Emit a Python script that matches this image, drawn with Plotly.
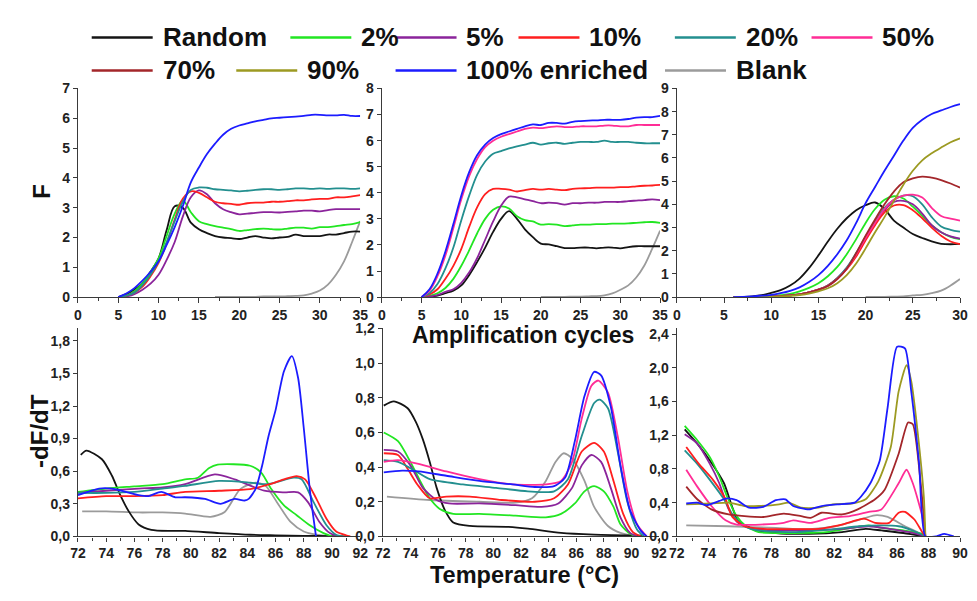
import plotly.graph_objects as go

# ---------------- series ----------------
series_names = ["Random", "2%", "5%", "10%", "20%", "50%", "70%", "90%", "100% enriched", "Blank"]
series_colors = ["#141414", "#22e622", "#8b249b", "#ff1f1f", "#238f8f", "#ff2d96",
                 "#a3262a", "#9c9a22", "#1c1cff", "#9b9b9b"]

# ---------------- top-left: amplification (cycles) ----------------
tl_cycles = list(range(5, 36))
tl_random = [0, 0.1, 0.25, 0.45, 0.85, 1.3, 2.25, 3.05, 3.0, 2.5, 2.28, 2.15, 2.05, 2.0, 1.98, 1.95,
             2.0, 2.05, 2.0, 1.97, 2.0, 2.02, 2.1, 2.05, 2.05, 2.05, 2.1, 2.1, 2.15, 2.2, 2.2]
tl_2pct = [0, 0.05, 0.2, 0.45, 0.85, 1.3, 2.05, 2.8, 3.25, 2.85, 2.55, 2.45, 2.38, 2.33, 2.28, 2.22,
           2.25, 2.28, 2.3, 2.28, 2.27, 2.3, 2.33, 2.33, 2.3, 2.35, 2.35, 2.38, 2.42, 2.45, 2.52]
tl_5pct = [0, 0.02, 0.1, 0.25, 0.45, 0.75, 1.25, 1.85, 2.7, 3.35, 3.58, 3.45, 3.15, 2.95, 2.85, 2.78,
           2.8, 2.83, 2.85, 2.85, 2.84, 2.86, 2.88, 2.9, 2.9, 2.88, 2.92, 2.95, 2.95, 2.95, 2.95]
tl_10pct = [0, 0.05, 0.15, 0.35, 0.7, 1.15, 1.8, 2.6, 3.3, 3.55, 3.5, 3.35, 3.2, 3.15, 3.13, 3.1,
            3.15, 3.17, 3.17, 3.2, 3.2, 3.22, 3.25, 3.25, 3.28, 3.3, 3.3, 3.35, 3.35, 3.38, 3.42]
tl_20pct = [0, 0.05, 0.15, 0.4, 0.75, 1.2, 1.85, 2.55, 3.2, 3.6, 3.68, 3.67, 3.62, 3.6, 3.58, 3.55,
            3.57, 3.6, 3.62, 3.62, 3.6, 3.62, 3.65, 3.65, 3.63, 3.65, 3.63, 3.65, 3.65, 3.63, 3.65]
tl_100pct = [0, 0.12, 0.3, 0.55, 0.85, 1.2, 1.75, 2.35, 3.05, 3.85, 4.35, 4.8, 5.15, 5.45, 5.65, 5.76,
             5.83, 5.9, 5.95, 6.0, 6.02, 6.04, 6.06, 6.08, 6.12, 6.12, 6.1, 6.1, 6.12, 6.08, 6.08]
tl_blank_cycles = list(range(17, 36))
tl_blank = [0.01, 0.01, 0.01, 0.01, 0.01, 0.01, 0.02, 0.02, 0.02, 0.03, 0.04, 0.06, 0.12, 0.22,
            0.42, 0.75, 1.2, 1.85, 2.55]

# ---------------- top-middle ----------------
tm_cycles = list(range(5, 36))
tm_random = [0, 0.02, 0.06, 0.15, 0.25, 0.45, 0.85, 1.35, 1.9, 2.5, 3.0, 3.3, 3.0, 2.6, 2.3, 2.05,
             2.02, 1.95, 1.88, 1.88, 1.9, 1.9, 1.87, 1.9, 1.9, 1.87, 1.92, 1.95, 1.95, 1.95, 1.95]
tm_2pct = [0, 0.05, 0.15, 0.35, 0.7, 1.2, 1.8, 2.45, 3.0, 3.35, 3.48, 3.4, 3.1, 2.95, 2.9, 2.78,
           2.8, 2.78, 2.72, 2.75, 2.78, 2.78, 2.8, 2.8, 2.82, 2.82, 2.83, 2.85, 2.87, 2.88, 2.85]
tm_5pct = [0, 0.02, 0.08, 0.2, 0.3, 0.55, 0.95, 1.5, 2.2, 2.9, 3.5, 3.85, 3.82, 3.75, 3.68, 3.6,
           3.62, 3.6, 3.55, 3.6, 3.6, 3.62, 3.62, 3.65, 3.65, 3.65, 3.68, 3.7, 3.72, 3.75, 3.72]
tm_10pct = [0, 0.1, 0.3, 0.7, 1.2, 1.85, 2.7, 3.45, 3.95, 4.15, 4.15, 4.12, 4.05, 4.1, 4.15, 4.12,
            4.15, 4.12, 4.1, 4.15, 4.17, 4.18, 4.2, 4.2, 4.2, 4.22, 4.22, 4.25, 4.27, 4.28, 4.3]
tm_20pct = [0, 0.15, 0.5, 1.1, 1.9, 2.95, 3.9, 4.7, 5.2, 5.5, 5.6, 5.7, 5.78, 5.85, 5.92, 5.85,
            5.9, 5.92, 5.88, 5.92, 5.95, 5.95, 5.95, 6.0, 5.95, 5.95, 5.95, 5.92, 5.9, 5.9, 5.9]
tm_50pct = [0, 0.25, 0.8, 1.6, 2.65, 3.75, 4.65, 5.3, 5.75, 6.0, 6.15, 6.25, 6.35, 6.45, 6.5, 6.48,
            6.52, 6.55, 6.52, 6.52, 6.55, 6.55, 6.55, 6.58, 6.58, 6.55, 6.55, 6.6, 6.6, 6.6, 6.6]
tm_100pct = [0, 0.3, 0.9, 1.75, 2.8, 3.9, 4.8, 5.45, 5.85, 6.1, 6.25, 6.35, 6.45, 6.55, 6.62, 6.6,
             6.68, 6.68, 6.65, 6.72, 6.75, 6.77, 6.78, 6.8, 6.8, 6.8, 6.83, 6.88, 6.9, 6.9, 6.95]
tm_blank_cycles = list(range(20, 36))
tm_blank = [0.005, 0.01, 0.01, 0.01, 0.015, 0.02, 0.03, 0.04, 0.07, 0.14, 0.28, 0.45, 0.75, 1.2,
            1.85, 2.55]

# ---------------- top-right ----------------
tr_cycles = list(range(6, 31))
tr_random = [0, 0.01, 0.03, 0.08, 0.18, 0.3, 0.5, 0.8, 1.25, 1.8, 2.4, 2.95, 3.4, 3.75, 3.96, 4.08,
             3.8, 3.3, 3.0, 2.72, 2.55, 2.4, 2.3, 2.28, 2.3]
tr_2pct = [0, 0, 0.01, 0.02, 0.04, 0.08, 0.14, 0.25, 0.4, 0.6, 0.9, 1.3, 1.85, 2.5, 3.2, 3.8, 4.2,
           4.35, 4.25, 3.9, 3.5, 3.1, 2.8, 2.6, 2.5]
tr_5pct = [0, 0, 0, 0.01, 0.02, 0.04, 0.07, 0.12, 0.2, 0.32, 0.5, 0.82, 1.25, 1.85, 2.55, 3.2, 3.75,
           4.1, 4.15, 4.0, 3.6, 3.1, 2.8, 2.62, 2.52]
tr_10pct = [0, 0, 0, 0.01, 0.02, 0.04, 0.07, 0.12, 0.2, 0.32, 0.5, 0.8, 1.2, 1.75, 2.45, 3.1, 3.65,
            3.95, 3.97, 3.75, 3.4, 3.0, 2.65, 2.4, 2.28]
tr_20pct = [0, 0, 0, 0.01, 0.02, 0.04, 0.07, 0.12, 0.2, 0.32, 0.5, 0.82, 1.27, 1.9, 2.6, 3.25, 3.85,
            4.2, 4.38, 4.35, 4.0, 3.45, 3.05, 2.9, 2.82]
tr_50pct = [0, 0, 0, 0.01, 0.02, 0.04, 0.07, 0.12, 0.2, 0.32, 0.48, 0.78, 1.22, 1.85, 2.55, 3.2, 3.8,
            4.2, 4.38, 4.42, 4.3, 3.85, 3.5, 3.38, 3.3]
tr_70pct = [0, 0, 0, 0.01, 0.02, 0.04, 0.07, 0.12, 0.2, 0.32, 0.48, 0.78, 1.22, 1.9, 2.65, 3.35, 4.0,
            4.55, 4.95, 5.12, 5.2, 5.15, 5.05, 4.9, 4.72]
tr_90pct = [0, 0, 0, 0.01, 0.02, 0.03, 0.05, 0.09, 0.15, 0.25, 0.38, 0.6, 0.95, 1.45, 2.1, 2.8, 3.45,
            4.15, 4.85, 5.45, 5.9, 6.2, 6.45, 6.68, 6.85]
tr_100pct = [0, 0.01, 0.03, 0.06, 0.1, 0.17, 0.27, 0.42, 0.65, 0.95, 1.35, 1.85, 2.45, 3.2, 4.05,
             4.75, 5.45, 6.1, 6.75, 7.3, 7.65, 7.9, 8.05, 8.2, 8.32]
tr_blank_cycles = list(range(20, 31))
tr_blank = [0.005, 0.01, 0.01, 0.02, 0.03, 0.07, 0.1, 0.17, 0.28, 0.5, 0.78]

# ---------------- bottom-left: melt curves ----------------
bl_random_t = [72.2, 72.6, 73.7, 74.4, 75.0, 75.6, 76.3, 77.2, 78.6, 79.6, 82, 84.2, 86, 88, 90, 91]
bl_random_v = [0.75, 0.79, 0.71, 0.56, 0.38, 0.23, 0.11, 0.06, 0.05, 0.05, 0.03, 0.015, 0.01, 0.005, 0.003, 0]
bl_2pct_t = [72, 74, 76, 78, 79.6, 80.5, 81.3, 81.9, 84.2, 85.0, 85.7, 86.6, 87.5, 88.4, 89.4, 90.0]
bl_2pct_v = [0.41, 0.44, 0.46, 0.48, 0.525, 0.54, 0.63, 0.66, 0.65, 0.585, 0.435, 0.285, 0.195, 0.105, 0.03, 0]
bl_5pct_t = [72, 74, 76.3, 78, 79.6, 81.7, 83.1, 85.2, 86.6, 87.6, 88.3, 89.1, 89.85, 90.5]
bl_5pct_v = [0.4, 0.42, 0.44, 0.45, 0.48, 0.57, 0.525, 0.42, 0.405, 0.405, 0.315, 0.135, 0.03, 0]
bl_10pct_t = [72, 74, 76, 78, 79.6, 82, 84.2, 85.6, 86.6, 87.5, 88.1, 88.9, 89.6, 90.3, 91.0, 91.3]
bl_10pct_v = [0.35, 0.37, 0.37, 0.38, 0.41, 0.42, 0.435, 0.48, 0.525, 0.555, 0.525, 0.345, 0.165, 0.045,
              0.01, 0]
bl_20pct_t = [72, 74, 76, 78, 79.6, 82.0, 84.2, 85.4, 87.3, 87.85, 88.7, 89.6, 90.3, 90.8]
bl_20pct_v = [0.4, 0.4, 0.41, 0.44, 0.465, 0.51, 0.495, 0.48, 0.54, 0.525, 0.315, 0.105, 0.015, 0]
bl_100pct_t = [72, 73.5, 74.4, 75.4, 76.3, 77, 77.9, 78.9, 79.6, 81.0, 82.1, 83.1, 83.8, 84.1, 84.6,
               85.05, 85.5, 86.0, 86.6, 87.16, 87.6, 88.0, 88.45, 88.87]
bl_100pct_v = [0.38, 0.44, 0.44, 0.41, 0.38, 0.37, 0.41, 0.36, 0.36, 0.345, 0.3, 0.345, 0.33, 0.345,
               0.44, 0.65, 0.92, 1.16, 1.52, 1.66, 1.46, 1.0, 0.41, 0]
bl_blank_t = [72.3, 74, 76.3, 78, 79.6, 81.4, 82.4, 83.5, 84.6, 85.3, 86.1, 87.05, 88.0, 88.9, 90.0]
bl_blank_v = [0.23, 0.23, 0.22, 0.22, 0.21, 0.18, 0.225, 0.435, 0.495, 0.465, 0.315, 0.135, 0.045, 0.015, 0]

# ---------------- bottom-middle ----------------
bm_random_t = [72.07, 72.8, 73.8, 74.4, 74.9, 75.4, 75.9, 76.5, 77.1, 78.3, 81.1, 82.5, 84.9, 87.3, 90.9]
bm_random_v = [0.755, 0.78, 0.74, 0.66, 0.56, 0.43, 0.28, 0.15, 0.08, 0.06, 0.055, 0.045, 0.02, 0.01, 0.004]
bm_2pct_t = [72.07, 73.1, 74, 74.7, 75.4, 76.1, 77.1, 79, 81.6, 83.8, 84.9, 85.9, 86.6, 87.3, 88,
             88.7, 89.2, 89.9, 90.4]
bm_2pct_v = [0.6, 0.55, 0.43, 0.32, 0.22, 0.16, 0.13, 0.13, 0.12, 0.11, 0.13, 0.19, 0.26, 0.29, 0.26,
             0.17, 0.07, 0.015, 0]
bm_5pct_t = [72.07, 73.1, 74, 74.9, 75.9, 76.8, 79, 81.6, 83.5, 84.7, 85.7, 86.4, 87.1, 87.8, 88.5,
             89.2, 89.9, 90.4]
bm_5pct_v = [0.5, 0.49, 0.41, 0.28, 0.21, 0.19, 0.19, 0.18, 0.17, 0.19, 0.28, 0.41, 0.47, 0.43, 0.28,
             0.11, 0.02, 0]
bm_10pct_t = [72.07, 73.1, 73.8, 74.5, 75.4, 76.6, 78.3, 80.6, 83, 84.4, 85.4, 86.4, 87.3, 88, 88.7,
              89.4, 90.1, 90.7]
bm_10pct_v = [0.48, 0.47, 0.39, 0.3, 0.22, 0.23, 0.23, 0.21, 0.2, 0.22, 0.3, 0.49, 0.54, 0.49, 0.32,
              0.13, 0.025, 0]
bm_20pct_t = [72.07, 73.1, 74.3, 75.4, 77.8, 80.2, 82.5, 84.4, 85.4, 86.4, 87.3, 87.7, 88.3, 89,
              89.7, 90.4, 90.9]
bm_20pct_v = [0.44, 0.43, 0.38, 0.33, 0.3, 0.28, 0.26, 0.26, 0.33, 0.58, 0.77, 0.79, 0.74, 0.49, 0.2,
              0.04, 0]
bm_50pct_t = [72.07, 73.1, 74.5, 76.6, 79, 81.4, 83.8, 84.9, 85.7, 86.4, 87.1, 87.6, 88.3, 89, 89.7,
              90.4, 91.1]
bm_50pct_v = [0.43, 0.44, 0.42, 0.375, 0.33, 0.3, 0.3, 0.32, 0.43, 0.68, 0.87, 0.9, 0.83, 0.58, 0.26,
              0.07, 0]
bm_100pct_t = [72.07, 73.4, 74.6, 76.6, 79, 81.4, 83, 84.4, 85.2, 85.9, 86.6, 87.3, 87.8, 88.5, 89.2,
               89.9, 90.7, 91.1]
bm_100pct_v = [0.37, 0.38, 0.375, 0.35, 0.32, 0.3, 0.285, 0.29, 0.34, 0.55, 0.81, 0.95, 0.93, 0.75,
               0.41, 0.15, 0.03, 0]
bm_blank_t = [72.3, 75.4, 79, 81.6, 82.8, 83.8, 84.5, 85.1, 85.7, 86.6, 87.3, 88.3, 89.2, 90.1]
bm_blank_v = [0.23, 0.21, 0.2, 0.195, 0.22, 0.32, 0.43, 0.48, 0.45, 0.32, 0.17, 0.06, 0.02, 0.004]

# ---------------- bottom-right ----------------
br_random_t = [72.5, 73.3, 74.1, 75.0, 75.5, 75.9, 76.8, 78.3, 80.4, 82.5, 84.0, 85.0, 86.4, 87.8]
br_random_v = [1.27, 1.1, 0.9, 0.63, 0.36, 0.18, 0.09, 0.04, 0.03, 0.05, 0.09, 0.07, 0.04, 0]
br_2pct_t = [72.5, 73.3, 74.1, 74.7, 75.2, 75.8, 76.4, 77.2, 79.4, 81.5, 83.1, 84.2, 85.0, 86.4, 87.6, 87.8]
br_2pct_v = [1.31, 1.14, 0.94, 0.71, 0.47, 0.24, 0.12, 0.05, 0.04, 0.05, 0.1, 0.13, 0.1, 0.07, 0.03, 0]
br_5pct_t = [72.5, 73.3, 74.1, 74.7, 75.3, 75.9, 76.8, 78.3, 80.4, 82.5, 84.2, 85.5, 86.8, 87.8]
br_5pct_v = [1.21, 1.1, 0.86, 0.63, 0.32, 0.16, 0.09, 0.07, 0.07, 0.09, 0.12, 0.09, 0.05, 0]
br_10pct_t = [72.6, 73.4, 74.3, 75.1, 75.5, 76.3, 77.5, 79.4, 81.0, 82.5, 83.9, 84.6, 85.5, 86.1,
              86.5, 87.1, 87.6, 87.8]
br_10pct_v = [1.06, 0.86, 0.67, 0.44, 0.24, 0.12, 0.09, 0.085, 0.09, 0.14, 0.21, 0.16, 0.16, 0.28,
              0.29, 0.2, 0.05, 0]
br_20pct_t = [72.5, 73.3, 74.1, 75.0, 75.6, 76.3, 77.2, 79.4, 81.7, 83.6, 85.0, 86.1, 87.0, 87.8]
br_20pct_v = [1.02, 0.86, 0.67, 0.44, 0.24, 0.12, 0.07, 0.05, 0.08, 0.12, 0.13, 0.12, 0.07, 0]
br_50pct_t = [72.6, 73.3, 74.2, 75.1, 75.8, 77.3, 78.8, 79.4, 80.5, 81.7, 83.0, 84.2, 85.0, 86.1,
              86.6, 87.0, 87.6, 87.8]
br_50pct_v = [0.79, 0.59, 0.36, 0.19, 0.14, 0.14, 0.16, 0.19, 0.16, 0.22, 0.24, 0.29, 0.32, 0.63,
              0.79, 0.63, 0.24, 0]
br_70pct_t = [72.6, 73.3, 74.2, 75.3, 76.3, 77.5, 78.8, 79.9, 80.5, 81.2, 82.5, 83.5, 84.6, 85.2,
              86.1, 86.7, 87.0, 87.5, 87.8]
br_70pct_v = [0.59, 0.44, 0.32, 0.26, 0.24, 0.23, 0.27, 0.24, 0.22, 0.28, 0.26, 0.32, 0.44, 0.55,
              0.98, 1.35, 1.33, 0.63, 0]
br_90pct_t = [72.6, 74.2, 75.3, 76.3, 77.2, 78.5, 79.1, 79.9, 81.0, 81.9, 83.1, 84.0, 84.8, 85.6,
              86.1, 86.6, 86.9, 87.3, 87.7, 87.8]
br_90pct_v = [0.38, 0.39, 0.4, 0.36, 0.36, 0.38, 0.4, 0.34, 0.34, 0.38, 0.39, 0.44, 0.65, 1.06,
              1.72, 2.03, 1.84, 1.25, 0.47, 0]
br_100pct_t = [72.6, 73.3, 73.9, 74.7, 75.2, 75.8, 76.6, 77.5, 78.3, 78.9, 79.4, 80.4, 81.2, 82.2,
               83.3, 83.7, 84.3, 84.9, 85.4, 86.0, 86.5, 86.9, 87.4, 87.8, 88.5, 89.0, 89.6]
br_100pct_v = [0.39, 0.4, 0.37, 0.42, 0.45, 0.43, 0.34, 0.35, 0.43, 0.44, 0.36, 0.32, 0.36, 0.38,
               0.4, 0.47, 0.63, 0.9, 1.53, 2.25, 2.23, 1.72, 0.86, 0, 0, 0.03, 0]
br_blank_t = [72.6, 75.3, 78.3, 80.4, 82.1, 83.3, 84.6, 85.4, 86.5, 87.4, 87.8]
br_blank_v = [0.13, 0.12, 0.1, 0.085, 0.12, 0.18, 0.25, 0.23, 0.12, 0.04, 0]

# ---------------- axis titles ----------------
y_title_top = "F"
y_title_bottom = "-dF/dT"
x_title_top = "Amplification cycles"
x_title_bottom = "Temperature (°C)"

# ---------------- build figure ----------------
# page body keeps the browser's default 8 px margin, so the figure is 16 px smaller than the window
PAGE_W, PAGE_H, BODY_M = 977, 601, 8
W, H = PAGE_W - 2 * BODY_M, PAGE_H - 2 * BODY_M
fig = go.Figure()

panels = [
    ("x", "y", [(9, tl_blank_cycles, tl_blank), (0, tl_cycles, tl_random), (1, tl_cycles, tl_2pct),
                (2, tl_cycles, tl_5pct), (3, tl_cycles, tl_10pct), (4, tl_cycles, tl_20pct),
                (8, tl_cycles, tl_100pct)], 1.0),
    ("x2", "y2", [(9, tm_blank_cycles, tm_blank), (0, tm_cycles, tm_random), (1, tm_cycles, tm_2pct),
                  (2, tm_cycles, tm_5pct), (3, tm_cycles, tm_10pct), (4, tm_cycles, tm_20pct),
                  (5, tm_cycles, tm_50pct), (8, tm_cycles, tm_100pct)], 1.0),
    ("x3", "y3", [(9, tr_blank_cycles, tr_blank), (0, tr_cycles, tr_random), (1, tr_cycles, tr_2pct),
                  (2, tr_cycles, tr_5pct), (3, tr_cycles, tr_10pct), (4, tr_cycles, tr_20pct),
                  (5, tr_cycles, tr_50pct), (6, tr_cycles, tr_70pct), (7, tr_cycles, tr_90pct),
                  (8, tr_cycles, tr_100pct)], 1.0),
    ("x4", "y4", [(9, bl_blank_t, bl_blank_v), (0, bl_random_t, bl_random_v), (1, bl_2pct_t, bl_2pct_v),
                  (2, bl_5pct_t, bl_5pct_v), (4, bl_20pct_t, bl_20pct_v), (3, bl_10pct_t, bl_10pct_v),
                  (8, bl_100pct_t, bl_100pct_v)], 0.7),
    ("x5", "y5", [(9, bm_blank_t, bm_blank_v), (0, bm_random_t, bm_random_v), (1, bm_2pct_t, bm_2pct_v),
                  (2, bm_5pct_t, bm_5pct_v), (3, bm_10pct_t, bm_10pct_v), (4, bm_20pct_t, bm_20pct_v),
                  (5, bm_50pct_t, bm_50pct_v), (8, bm_100pct_t, bm_100pct_v)], 0.7),
    ("x6", "y6", [(9, br_blank_t, br_blank_v), (0, br_random_t, br_random_v), (1, br_2pct_t, br_2pct_v),
                  (2, br_5pct_t, br_5pct_v), (4, br_20pct_t, br_20pct_v), (3, br_10pct_t, br_10pct_v),
                  (5, br_50pct_t, br_50pct_v), (6, br_70pct_t, br_70pct_v), (7, br_90pct_t, br_90pct_v),
                  (8, br_100pct_t, br_100pct_v)], 0.6),
]

for xa, ya, curves, smooth in panels:
    for idx, xs, ys in curves:
        fig.add_trace(go.Scatter(
            x=xs, y=ys, xaxis=xa, yaxis=ya, mode="lines", name=series_names[idx],
            line=dict(color=series_colors[idx], width=1.8, shape="spline", smoothing=smooth),
            showlegend=False, hoverinfo="skip"))


def px_x(p):
    return min(1.0, max(0.0, (p - BODY_M) / W))


def px_y(p):
    return min(1.0, max(0.0, 1 - (p - BODY_M) / H))


# panel geometry (window pixels)
top_cols = [[px_x(71), px_x(358)], [px_x(380), px_x(663)], [px_x(680), px_x(968)]]
bot_cols = [[px_x(71), px_x(358)], [px_x(381), px_x(662)], [px_x(680), px_x(968)]]
top_dom = [px_y(297), px_y(82)]
bot_dom = [px_y(543), px_y(329)]

tickfont = dict(family="Liberation Sans, Arial, sans-serif", size=14, color="#222222", weight="bold")
axis_common = dict(showline=True, linecolor="#3a3a3a", linewidth=1.4, ticks="outside",
                   ticklen=5, tickwidth=1.2, tickcolor="#3a3a3a", showgrid=False, zeroline=False,
                   tickfont=tickfont, mirror=False, fixedrange=True)

xspecs = [
    ("xaxis", top_cols[0], [0, 35], 5, 2.5, "y", 5),
    ("xaxis2", top_cols[1], [0, 35], 5, 2.5, "y2", 5),
    ("xaxis3", top_cols[2], [0, 30], 5, 2.5, "y3", 5),
    ("xaxis4", bot_cols[0], [72, 92], 2, 1, "y4", 4),
    ("xaxis5", bot_cols[1], [72, 92], 2, 1, "y5", 4),
    ("xaxis6", bot_cols[2], [72, 90], 2, 1, "y6", 4),
]
yspecs = [
    ("yaxis", top_dom, [0, 7.02], 1, "x", "d"),
    ("yaxis2", top_dom, [0, 8.02], 1, "x2", "d"),
    ("yaxis3", top_dom, [0, 9.02], 1, "x3", "d"),
    ("yaxis4", bot_dom, [0, 1.916], 0.3, "x4", ".1f"),
    ("yaxis5", bot_dom, [0, 1.202], 0.2, "x5", ".1f"),
    ("yaxis6", bot_dom, [0, 2.469], 0.4, "x6", ".1f"),
]

layout = dict(
    width=W, height=H, margin=dict(l=0, r=0, t=0, b=0), autosize=False,
    paper_bgcolor="white", plot_bgcolor="white", separators=",.", showlegend=False,
)
for name, dom, rng, dt, mdt, anchor, tl in xspecs:
    layout[name] = dict(axis_common, domain=dom, range=rng, dtick=dt, tick0=rng[0], anchor=anchor,
                        ticklen=tl,
                        minor=dict(dtick=mdt, ticks="outside", ticklen=3, tickcolor="#3a3a3a"))
for name, dom, rng, dt, anchor, fmt in yspecs:
    layout[name] = dict(axis_common, domain=dom, range=rng, dtick=dt, tick0=0, anchor=anchor,
                        tickformat=fmt, ticklen=4)

fig.update_layout(**layout)

# ---------------- axis titles ----------------
title_font = dict(family="Liberation Sans, Arial, sans-serif", size=24, color="#111111")
fig.add_annotation(x=px_x(33), y=px_y(188), xref="paper", yref="paper", text="<b>%s</b>" % y_title_top,
                   showarrow=False, textangle=-90, font=title_font, xanchor="center", yanchor="middle")
fig.add_annotation(x=px_x(32), y=px_y(435), xref="paper", yref="paper", text="<b>%s</b>" % y_title_bottom,
                   showarrow=False, textangle=-90, font=title_font, xanchor="center", yanchor="middle")
fig.add_annotation(x=px_x(524), y=px_y(336), xref="paper", yref="paper", text="<b>%s</b>" % x_title_top,
                   showarrow=False, font=dict(title_font, size=23), xanchor="center", yanchor="middle",
                   borderpad=0)
fig.add_annotation(x=px_x(525), y=px_y(583), xref="paper", yref="paper", text="<b>%s</b>" % x_title_bottom,
                   showarrow=False, font=dict(title_font, size=23.5), xanchor="center", yanchor="middle",
                   borderpad=0)

# ---------------- legend (two rows, drawn as lines + labels) ----------------
legend_rows = [[0, 1, 2, 3, 4, 5], [6, 7, 8, 9]]
legend_row_y = [30, 64]
legend_line_x = [[85, 287, 394, 519, 678, 817], [85, 232, 394, 668]]
legend_line_len = 62
legend_text_gap = 8
legend_font = dict(family="Liberation Sans, Arial, sans-serif", size=26, color="#111111")
for row, ypix, xs in zip(legend_rows, legend_row_y, legend_line_x):
    for idx, x0 in zip(row, xs):
        fig.add_shape(type="line", xref="paper", yref="paper",
                      x0=px_x(x0), x1=px_x(x0 + legend_line_len), y0=px_y(ypix), y1=px_y(ypix),
                      line=dict(color=series_colors[idx], width=2.5))
        fig.add_annotation(x=px_x(x0 + legend_line_len + legend_text_gap), y=px_y(ypix), xref="paper",
                           yref="paper", text="<b>%s</b>" % series_names[idx], showarrow=False,
                           xanchor="left", yanchor="middle", font=legend_font)

fig.write_html("out.html", config={"displayModeBar": False, "responsive": False})
